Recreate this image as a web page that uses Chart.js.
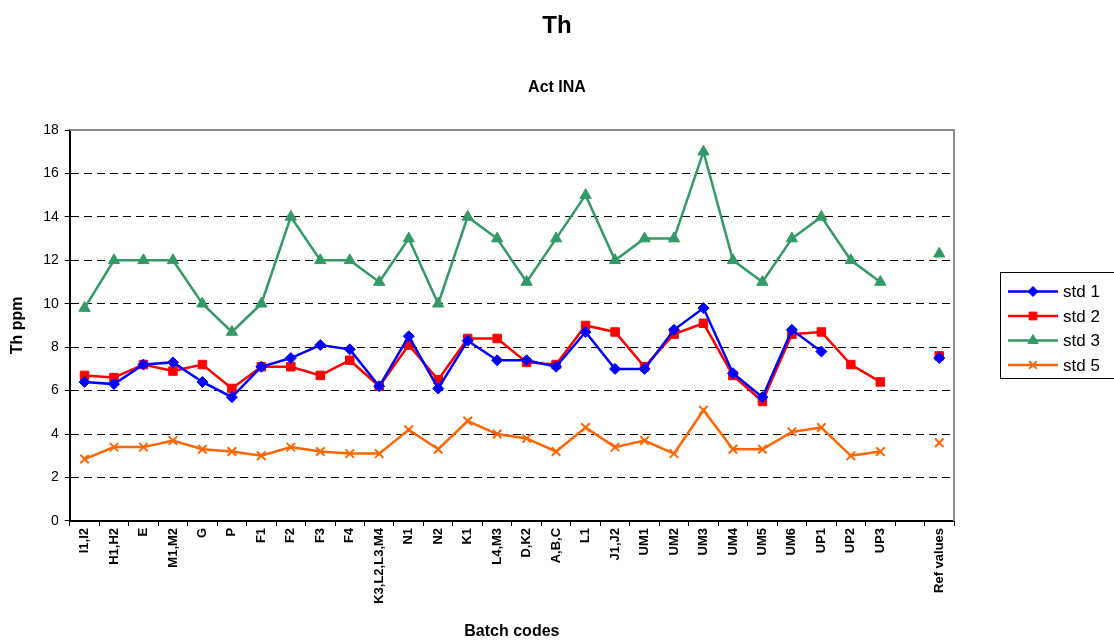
<!DOCTYPE html>
<html>
<head>
<meta charset="utf-8">
<script src="https://cdn.jsdelivr.net/npm/chart.js@4"></script>
<style>
  html, body { margin: 0; padding: 0; background: #fff; }
  #wrap { width: 1114px; height: 644px; }
</style>
</head>
<body>
<div id="wrap"><canvas id="thChart"></canvas></div>
<script>
var batchCodes = ["I1,I2","H1,H2","E","M1,M2","G","P","F1","F2","F3","F4","K3,L2,L3,M4","N1","N2","K1","L4,M3","D,K2","A,B,C","L1","J1,J2","UM1","UM2","UM3","UM4","UM5","UM6","UP1","UP2","UP3","","Ref values"];

var std1 = [6.4,6.3,7.2,7.3,6.4,5.7,7.1,7.5,8.1,7.9,6.2,8.5,6.1,8.3,7.4,7.4,7.1,8.7,7.0,7.0,8.8,9.8,6.8,5.7,8.8,7.8,null,null,null,7.5];
var std2 = [6.7,6.6,7.2,6.9,7.2,6.1,7.1,7.1,6.7,7.4,6.2,8.1,6.5,8.4,8.4,7.3,7.2,9.0,8.7,7.1,8.6,9.1,6.7,5.5,8.6,8.7,7.2,6.4,null,7.6];
var std3 = [9.8,12,12,12,10,8.7,10,14,12,12,11,13,10,14,13,11,13,15,12,13,13,17,12,11,13,14,12,11,null,12.3];
var std5 = [2.85,3.4,3.4,3.7,3.3,3.2,3.0,3.4,3.2,3.1,3.1,4.2,3.3,4.6,4.0,3.8,3.2,4.3,3.4,3.7,3.1,5.1,3.3,3.3,4.1,4.3,3.0,3.2,null,3.6];

var yTicks = [0,2,4,6,8,10,12,14,16,18];

var FONT = "'Liberation Sans', Arial, sans-serif";

function series(label, values, color, style, radius) {
  return {
    label: label,
    data: values,
    borderColor: color,
    backgroundColor: color,
    pointBorderColor: color,
    pointBackgroundColor: color,
    borderWidth: 2.5,
    pointStyle: style,
    pointRadius: radius,
    pointHoverRadius: radius,
    pointBorderWidth: style === 'crossRot' ? 2 : 1,
    tension: 0,
    spanGaps: false
  };
}

// grey frame on top/right of the plot and the Excel-style legend box
var excelBits = {
  id: 'excelBits',
  afterDraw: function(chart) {
    var c = chart.ctx, a = chart.chartArea;
    c.save();
    c.strokeStyle = '#8c8c8c';
    c.lineWidth = 2;
    c.beginPath();
    c.moveTo(a.left, a.top);
    c.lineTo(a.right, a.top);
    c.lineTo(a.right, a.bottom);
    c.stroke();

    var bx = 1000, by = 272, bw = 120, bh = 106;
    c.strokeStyle = '#000';
    c.lineWidth = 1;
    c.strokeRect(bx + 0.5, by + 0.5, bw, bh);
    c.font = '17px ' + FONT;
    c.textBaseline = 'middle';
    c.textAlign = 'left';
    chart.data.datasets.forEach(function(ds, i) {
      var y = by + 19.5 + i * 24.5;
      c.strokeStyle = ds.borderColor;
      c.lineWidth = 2.5;
      c.beginPath();
      c.moveTo(bx + 8, y);
      c.lineTo(bx + 58, y);
      c.stroke();
      c.fillStyle = ds.borderColor;
      c.lineWidth = ds.pointBorderWidth;
      Chart.helpers.drawPoint(c, {
        pointStyle: ds.pointStyle,
        radius: ds.pointRadius - 0.5,
        borderWidth: ds.pointBorderWidth,
        rotation: 0
      }, bx + 33, y);
      c.fillStyle = '#000';
      c.fillText(ds.label, bx + 63, y + 1);
    });
    c.restore();
  }
};

var ctx = document.getElementById('thChart').getContext('2d');
var thChart = new Chart(ctx, {
  type: 'line',
  data: {
    labels: batchCodes,
    datasets: [
      series('std 1', std1, '#0000ff', 'rectRot', 5.5),
      series('std 2', std2, '#ff0000', 'rect', 6),
      series('std 3', std3, '#339966', 'triangle', 6.5),
      series('std 5', std5, '#ff6600', 'crossRot', 6)
    ]
  },
  plugins: [excelBits],
  options: {
    responsive: true,
    maintainAspectRatio: false,
    animation: false,
    layout: { padding: { left: 8, right: 8, top: 8, bottom: 3 } },
    plugins: {
      legend: { display: false },
      tooltip: { enabled: false },
      title: {
        display: true,
        text: 'Th',
        color: '#000',
        font: { family: FONT, size: 24, weight: 'bold' },
        padding: { top: 4, bottom: 37 }
      },
      subtitle: {
        display: true,
        text: 'Act INA',
        color: '#000',
        font: { family: FONT, size: 16, weight: 'bold' },
        padding: { top: 0, bottom: 33 }
      }
    },
    scales: {
      x: {
        offset: true,
        grid: {
          offset: true,
          drawOnChartArea: false,
          color: '#000',
          tickLength: 5,
          tickColor: '#000'
        },
        border: { color: '#000', width: 2 },
        ticks: {
          autoSkip: false,
          minRotation: 90,
          maxRotation: 90,
          color: '#000',
          padding: 2,
          font: { family: FONT, size: 13, weight: 'bold' }
        },
        title: {
          display: true,
          text: 'Batch codes',
          color: '#000',
          font: { family: FONT, size: 16, weight: 'bold' },
          padding: { top: 16, bottom: 0 }
        }
      },
      y: {
        min: 0,
        max: 18,
        afterBuildTicks: function(axis) {
          axis.ticks = yTicks.map(function(v) { return { value: v }; });
        },
        grid: {
          color: function(c) { return (c.tick && (c.tick.value === 0 || c.tick.value === 18)) ? 'rgba(0,0,0,0)' : '#000'; },
          tickColor: '#000',
          tickLength: 5,
          lineWidth: 1
        },
        border: { color: '#000', width: 2, dash: [8, 5] },
        ticks: {
          color: '#000',
          padding: 6,
          font: { family: FONT, size: 14 }
        },
        title: {
          display: true,
          text: 'Th ppm',
          color: '#000',
          font: { family: FONT, size: 16, weight: 'bold' },
          padding: { top: 0, bottom: 10 }
        }
      },
      // empty axis on the right that only reserves room for the legend
      legendSpace: {
        type: 'linear',
        position: 'right',
        display: true,
        grid: { display: false, drawTicks: false },
        border: { display: false },
        ticks: { display: false },
        afterFit: function(axis) { axis.width = 152; }
      }
    }
  }
});
</script>
</body>
</html>
